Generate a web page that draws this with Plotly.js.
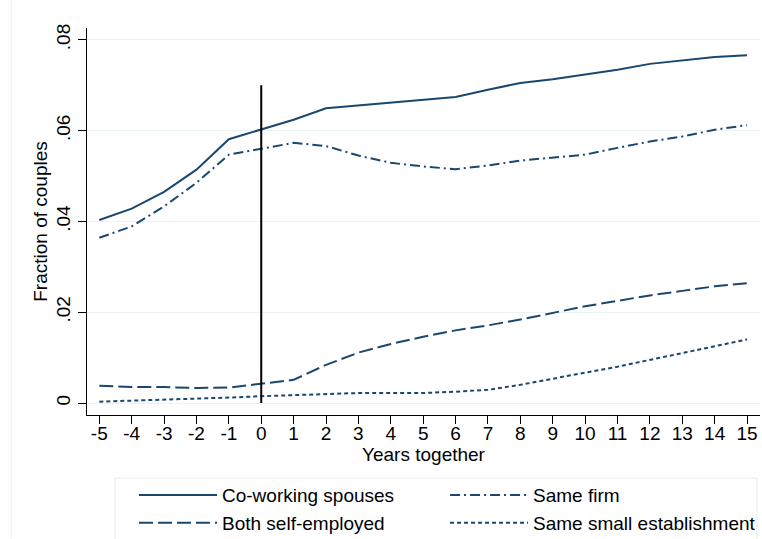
<!DOCTYPE html>
<html>
<head>
<meta charset="utf-8">
<script src="https://cdn.plot.ly/plotly-3.0.1.min.js"></script>
<style>
  html, body { margin: 0; padding: 0; background: #fff; }
  #chart { width: 762px; height: 539px; }
</style>
</head>
<body>
<div id="chart"></div>
<script>
// years relative to the start of the relationship
const years = [-5, -4, -3, -2, -1, 0, 1, 2, 3, 4, 5, 6, 7, 8, 9, 10, 11, 12, 13, 14, 15]
const yearLabels = years.map(String)

const coWorking = [0.0403, 0.0428, 0.0465, 0.0514, 0.0581, 0.0602, 0.0624, 0.0649, 0.0655, 0.0661,
  0.0667, 0.0674, 0.0690, 0.0705, 0.0713, 0.0723, 0.0734, 0.0747, 0.0754, 0.0762, 0.0766]
const sameFirm = [0.0364, 0.0389, 0.0433, 0.0485, 0.0547, 0.0560, 0.0573, 0.0566, 0.0545, 0.0529,
  0.0521, 0.0515, 0.0523, 0.0534, 0.0541, 0.0547, 0.0562, 0.0576, 0.0587, 0.0602, 0.0612]
const selfEmployed = [0.0038, 0.0035, 0.0035, 0.0033, 0.0034, 0.0042, 0.0051, 0.0084, 0.0111, 0.0130,
  0.0146, 0.0160, 0.0171, 0.0184, 0.0198, 0.0213, 0.0225, 0.0237, 0.0247, 0.0257, 0.0264]
const smallEstab = [0.0003, 0.0005, 0.0007, 0.0009, 0.0012, 0.0015, 0.0017, 0.0020, 0.0022, 0.0022,
  0.0022, 0.0025, 0.0029, 0.0040, 0.0054, 0.0067, 0.0080, 0.0095, 0.0111, 0.0126, 0.0140]

const yTicks = [0, 0.02, 0.04, 0.06, 0.08]
const yTickLabels = ['0', '.02', '.04', '.06', '.08']

// vertical marker at year 0
const markerX = [0, 0]
const markerY = [0, 0.07]

const navy = '#1a476f'
const font = 'Liberation Sans, Arial, sans-serif'

function series(name, y, dash, legend) {
  return {
    name: name,
    x: years,
    y: y,
    type: 'scatter',
    mode: 'lines',
    line: { color: navy, width: 2, dash: dash },
    legend: legend,
    hoverinfo: 'x+y+name'
  }
}

const data = [
  series('Co-working spouses', coWorking, 'solid', 'legend'),
  series('Both self-employed', selfEmployed, '14px,5px', 'legend'),
  series('Same firm', sameFirm, '10px,4px,2px,4px', 'legend2'),
  series('Same small establishment', smallEstab, '4px,3px', 'legend2'),
  {
    x: markerX,
    y: markerY,
    type: 'scatter',
    mode: 'lines',
    line: { color: '#000', width: 2 },
    showlegend: false,
    hoverinfo: 'skip'
  }
]

const legendStyle = {
  orientation: 'v',
  xanchor: 'left',
  y: -0.158,
  yanchor: 'top',
  itemwidth: 78,
  tracegroupgap: 0,
  borderwidth: 0,
  bgcolor: 'rgba(0,0,0,0)',
  font: { size: 19 }
}

const layout = {
  width: 762,
  height: 539,
  paper_bgcolor: '#fff',
  plot_bgcolor: '#fff',
  font: { family: font, size: 19, color: '#000' },
  margin: { l: 87, r: 2, t: 28, b: 124, autoexpand: false },
  xaxis: {
    range: [-5.38, 15.4],
    tickmode: 'array',
    tickvals: years,
    ticktext: yearLabels,
    ticks: 'outside',
    ticklen: 8,
    tickcolor: '#000',
    ticklabelstandoff: -7,
    showline: true,
    linecolor: '#000',
    linewidth: 1,
    showgrid: false,
    zeroline: false,
    automargin: false,
    tickfont: { size: 19 },
    title: { text: 'Years together', font: { size: 19 }, standoff: 2 }
  },
  yaxis: {
    range: [-0.00264, 0.0826],
    tickmode: 'array',
    tickvals: yTicks,
    ticktext: yTickLabels,
    tickangle: -90,
    ticks: 'outside',
    ticklen: 8,
    tickcolor: '#000',
    showline: true,
    linecolor: '#000',
    linewidth: 1,
    showgrid: true,
    gridcolor: '#eaf2f3',
    gridwidth: 1,
    zeroline: false,
    automargin: false,
    tickfont: { size: 19 },
    title: { text: 'Fraction of couples', font: { size: 19 }, standoff: 0 }
  },
  showlegend: true,
  legend: Object.assign({}, legendStyle, { x: 0.0698 }),
  legend2: Object.assign({}, legendStyle, { x: 0.532 }),
  shapes: [
    // legend frame
    { type: 'rect', xref: 'paper', yref: 'paper', x0: 0.0416, x1: 0.9955, y0: -0.1628, y1: -0.36,
      line: { color: '#e4ecee', width: 1 }, layer: 'below' },
    // faint outer region edge
    { type: 'line', xref: 'paper', yref: 'paper', x0: -0.112, x1: -0.112, y0: -0.32, y1: 1.08,
      line: { color: '#eef3f4', width: 1 } }
  ]
}

const config = { responsive: false, displayModeBar: false, staticPlot: true }

Plotly.newPlot('chart', data, layout, config)
</script>
</body>
</html>
